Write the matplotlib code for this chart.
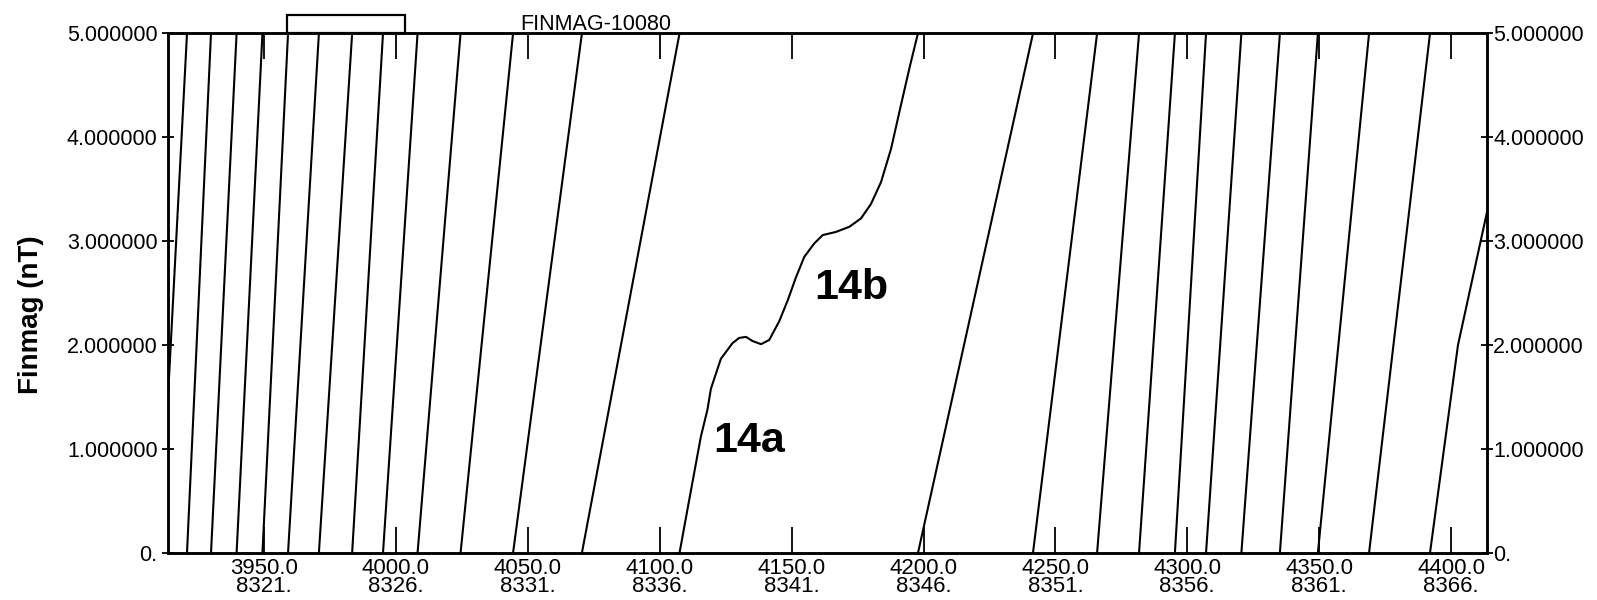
import matplotlib
matplotlib.use('Agg')
import matplotlib.pyplot as plt
from matplotlib.patches import Rectangle

plt.rcParams['font.family'] = ['Liberation Sans', 'DejaVu Sans']

# distance where Finmag wraps from 5 nT back to 0
wrap_x = [3920.8, 3929.9, 3939.6, 3949.4, 3959.1, 3970.8, 3983.4, 3995.1,
          4008.2, 4024.5, 4044.4, 4070.5, 4107.5, 4197.9, 4241.5, 4265.8,
          4281.7, 4295.3, 4307.1, 4320.5, 4335.1, 4349.5, 4368.9, 4392.0]

# the slow stretch with features 14a / 14b
curve_x = [4107.5, 4111.1, 4115.6, 4118.1, 4119.4, 4123.2, 4127.6, 4130.1,
           4132.7, 4135.2, 4138.4, 4141.5, 4145.3, 4148.5, 4151.6, 4154.8,
           4158.6, 4161.8, 4166.8, 4171.9, 4176.3, 4180.1, 4183.9, 4187.7,
           4190.9, 4194.7, 4197.2, 4197.9]
curve_y = [0.0, 0.50, 1.12, 1.38, 1.58, 1.87, 2.02, 2.07,
           2.08, 2.04, 2.01, 2.05, 2.23, 2.43, 2.65, 2.85,
           2.98, 3.06, 3.09, 3.14, 3.22, 3.36, 3.57, 3.89,
           4.25, 4.67, 4.93, 5.0]

# partial strokes at the left and right edges
first_x = [3913.6, 3920.8]
first_y = [1.5, 5.0]
last_x = [4392.0, 4402.6, 4413.6]
last_y = [0.0, 2.0, 3.28]

tick_dist = [3950, 4000, 4050, 4100, 4150, 4200, 4250, 4300, 4350, 4400]
tick_time = [8321, 8326, 8331, 8336, 8341, 8346, 8351, 8356, 8361, 8366]
ytick_vals = [0, 1, 2, 3, 4, 5]
ytick_labels = ['0.', '1.000000', '2.000000', '3.000000', '4.000000', '5.000000']

fig = plt.figure(figsize=(15.97, 6.0), dpi=100)
ax = fig.add_axes([0.1052, 0.0783, 0.8259, 0.8659])

lw = 1.5
ax.plot(first_x, first_y, color='black', lw=lw)
for i in range(len(wrap_x) - 1):
    if wrap_x[i] == curve_x[0]:
        ax.plot(curve_x, curve_y, color='black', lw=lw)
    else:
        ax.plot([wrap_x[i], wrap_x[i + 1]], [0, 5], color='black', lw=lw)
ax.plot(last_x, last_y, color='black', lw=lw)

ax.set_xlim(3913.6, 4413.6)
ax.set_ylim(0, 5)

# x axis: distance over time, inward ticks top and bottom
ax.set_xticks(tick_dist)
ax.set_xticklabels([f'{d:.1f}\n{t}.' for d, t in zip(tick_dist, tick_time)])
ax.tick_params(axis='x', direction='in', length=18.5, width=1.3, top=True,
               labelsize=16, pad=3.5)
plt.setp(ax.get_xticklabels(), linespacing=0.85)

ax.set_yticks(ytick_vals)
ax.set_yticklabels(ytick_labels)
ax.tick_params(axis='y', direction='inout', length=9, width=1.3,
               labelsize=15.5, pad=3)

# right hand copy of the value axis
ax2 = ax.twinx()
ax2.set_ylim(0, 5)
ax2.set_yticks(ytick_vals)
ax2.set_yticklabels(ytick_labels)
ax2.tick_params(axis='y', direction='inout', length=9, width=1.3,
                labelsize=15.5, pad=0)

for a in (ax, ax2):
    for s in a.spines.values():
        s.set_linewidth(1.8)

ax.set_ylabel('Finmag (nT)', fontsize=20, fontweight='bold')
ax.yaxis.set_label_coords(-0.094, 0.458)

ax.text(4120.3, 0.977, '14a', fontsize=31, fontweight='bold', va='baseline')
ax.text(4158.6, 2.44, '14b', fontsize=31, fontweight='bold', va='baseline')

fig.text(0.3256, 0.95, 'FINMAG-10080', fontsize=15.5, va='baseline')
fig.add_artist(Rectangle((0.1797, 0.945), 0.0739, 0.03, transform=fig.transFigure,
                         fill=False, edgecolor='black', lw=1.6))

fig.savefig('out.png', dpi=100)
